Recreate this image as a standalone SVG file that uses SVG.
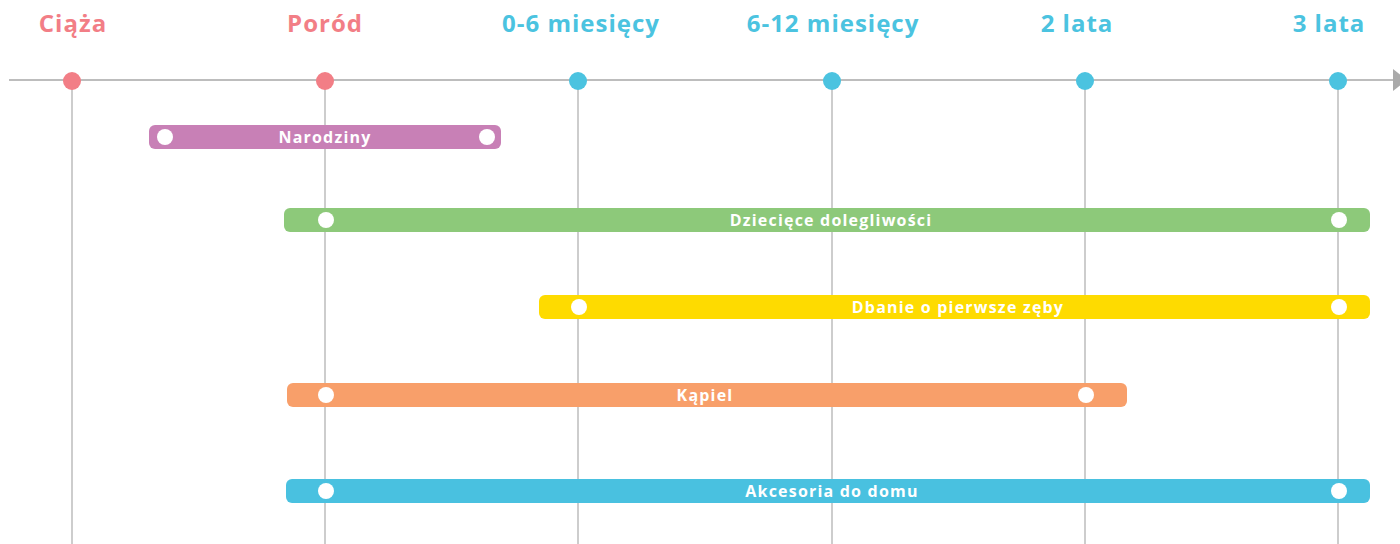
<svg xmlns="http://www.w3.org/2000/svg" width="1400" height="544" viewBox="0 0 1400 544">
<defs>
<style>
.hdr{font-family:"Open Sans","Liberation Sans",sans-serif;font-weight:700;font-size:24px;letter-spacing:1px;text-anchor:middle}
.pink{fill:#F27E86}
.blue{fill:#4BC3E0}
.vline{stroke:#BDBDBD;stroke-width:1.5}
.axis{stroke:#BDBDBD;stroke-width:2}
.lbl{font-family:"Open Sans","Liberation Sans",sans-serif;font-weight:700;font-size:16px;letter-spacing:1.2px;fill:#FFFFFF;text-anchor:middle}
.wd{fill:#FFFFFF}
</style>
<marker id="arr" markerWidth="14" markerHeight="22" refX="0" refY="11" orient="auto" markerUnits="userSpaceOnUse">
<path d="M0,0 L14,11 L0,22 Z" fill="#AAAAAA"/>
</marker>
</defs>
<rect width="1400" height="544" fill="#FFFFFF"/>
<g id="connectors">
<line class="axis" x1="9" y1="80" x2="1393" y2="80" marker-end="url(#arr)"/>
<line class="vline" x1="72" y1="80" x2="72" y2="544"/>
<line class="vline" x1="325" y1="80" x2="325" y2="544"/>
<line class="vline" x1="578" y1="80" x2="578" y2="544"/>
<line class="vline" x1="832" y1="80" x2="832" y2="544"/>
<line class="vline" x1="1085" y1="80" x2="1085" y2="544"/>
<line class="vline" x1="1338" y1="80" x2="1338" y2="544"/>
</g>
<g id="milestone-ciaza"><text class="hdr pink" x="73" y="32">Ciąża</text><circle class="pink" cx="72" cy="81" r="9"/></g>
<g id="milestone-porod"><text class="hdr pink" x="325" y="32">Poród</text><circle class="pink" cx="325" cy="81" r="9"/></g>
<g id="milestone-0-6"><text class="hdr blue" x="581" y="32">0-6 miesięcy</text><circle class="blue" cx="578" cy="81" r="9"/></g>
<g id="milestone-6-12"><text class="hdr blue" x="833" y="32">6-12 miesięcy</text><circle class="blue" cx="832" cy="81" r="9"/></g>
<g id="milestone-2"><text class="hdr blue" x="1077" y="32">2 lata</text><circle class="blue" cx="1085" cy="81" r="9"/></g>
<g id="milestone-3"><text class="hdr blue" x="1329" y="32">3 lata</text><circle class="blue" cx="1338" cy="81" r="9"/></g>
<g id="bar-narodziny">
<rect x="149" y="125" width="352" height="24" rx="6" fill="#C880B6"/>
<circle class="wd" cx="165" cy="137" r="8"/><circle class="wd" cx="487" cy="137" r="8"/>
<text class="lbl" x="325" y="143">Narodziny</text>
</g>
<g id="bar-dolegliwosci">
<rect x="284" y="208" width="1086" height="24" rx="6" fill="#8DC97A"/>
<circle class="wd" cx="326" cy="220" r="8"/><circle class="wd" cx="1339" cy="220" r="8"/>
<text class="lbl" x="831" y="226">Dziecięce dolegliwości</text>
</g>
<g id="bar-zeby">
<rect x="539" y="295" width="831" height="24" rx="6" fill="#FEDB00"/>
<circle class="wd" cx="579" cy="307" r="8"/><circle class="wd" cx="1339" cy="307" r="8"/>
<text class="lbl" x="958" y="313">Dbanie o pierwsze zęby</text>
</g>
<g id="bar-kapiel">
<rect x="287" y="383" width="840" height="24" rx="6" fill="#F89F6A"/>
<circle class="wd" cx="326" cy="395" r="8"/><circle class="wd" cx="1086" cy="395" r="8"/>
<text class="lbl" x="705" y="401">Kąpiel</text>
</g>
<g id="bar-akcesoria">
<rect x="286" y="479" width="1084" height="24" rx="6" fill="#49C1E0"/>
<circle class="wd" cx="326" cy="491" r="8"/><circle class="wd" cx="1339" cy="491" r="8"/>
<text class="lbl" x="832" y="497">Akcesoria do domu</text>
</g>
</svg>
